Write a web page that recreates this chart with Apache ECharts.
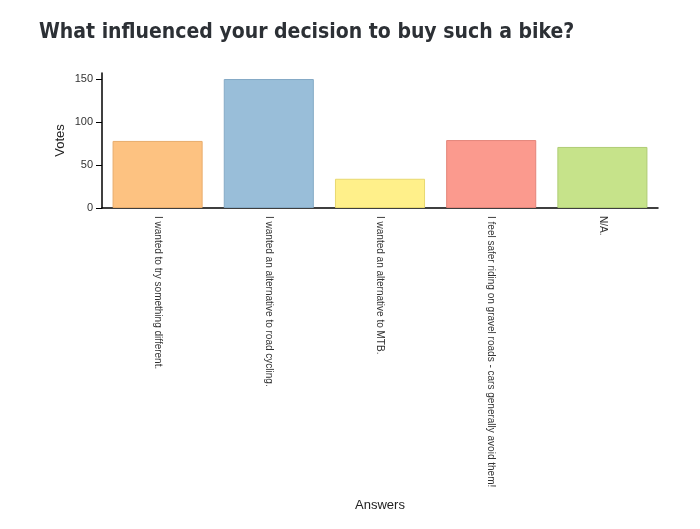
<!DOCTYPE html>
<html>
<head>
<meta charset="utf-8">
<script src="https://cdn.jsdelivr.net/npm/echarts@6/dist/echarts.min.js"></script>
<style>
    html, body { margin: 0; padding: 0; background: #fff; }
    #bar { width: 700px; height: 529px; }
</style>
</head>
<body>
<div id="bar"></div>
<script>
var answers = [
    'I wanted to try something different.',
    'I wanted an alternative to road cycling.',
    'I wanted an alternative to MTB.',
    'I feel safer riding on gravel roads - cars generally avoid them!',
    'N/A.'
];
var votes = [78, 150, 34, 79, 71];
var barColors = ['#fdc281', '#99bed9', '#fff08a', '#fb9a8e', '#c6e38a'];
var borderColors = ['#e9ad6c', '#85aac6', '#e8d870', '#e4857a', '#b0cd75'];

function createBar() {
    var myChart = echarts.init(document.getElementById('bar'));

    var option = {
        animation: false,
        title: {
            text: 'What influenced your decision to buy such a bike?',
            left: 34,
            top: 17,
            textStyle: {
                fontFamily: '"DejaVu Sans Condensed", "Liberation Sans", sans-serif',
                fontWeight: 'bold',
                fontSize: 21,
                color: '#2c3035'
            }
        },
        grid: {
            left: 102,
            right: 42,
            top: 73,
            bottom: 321,
            outerBoundsMode: 'none'
        },
        xAxis: {
            type: 'category',
            data: answers,
            name: 'Answers',
            nameLocation: 'middle',
            nameGap: 291,
            nameMoveOverlap: false,
            nameTextStyle: {
                fontFamily: 'Liberation Sans',
                fontSize: 13,
                color: '#222'
            },
            axisLine: { lineStyle: { color: '#000', width: 1.5 } },
            axisTick: { length: 6, lineStyle: { color: '#000' } },
            axisLabel: {
                rotate: -90,
                interval: 0,
                margin: 8,
                fontFamily: 'Liberation Sans',
                fontSize: 10,
                color: '#333'
            }
        },
        yAxis: {
            type: 'value',
            min: 0,
            max: 157,
            interval: 50,
            name: 'Votes',
            nameLocation: 'middle',
            nameGap: 35,
            nameMoveOverlap: false,
            nameTextStyle: {
                fontFamily: 'Liberation Sans',
                fontSize: 13,
                color: '#222'
            },
            splitLine: { show: false },
            axisLine: { show: true, lineStyle: { color: '#000', width: 1.5 } },
            axisTick: { show: true, length: 6, lineStyle: { color: '#000' } },
            axisLabel: {
                showMaxLabel: false,
                margin: 9,
                fontFamily: 'Liberation Sans',
                fontSize: 11,
                color: '#333'
            }
        },
        series: [{
            name: 'Votes',
            type: 'bar',
            barCategoryGap: '19%',
            data: votes.map(function (v, i) {
                return {
                    value: v,
                    itemStyle: {
                        color: barColors[i],
                        borderColor: borderColors[i],
                        borderWidth: 1
                    }
                };
            })
        }]
    };

    myChart.setOption(option);
}

createBar();
</script>
</body>
</html>
